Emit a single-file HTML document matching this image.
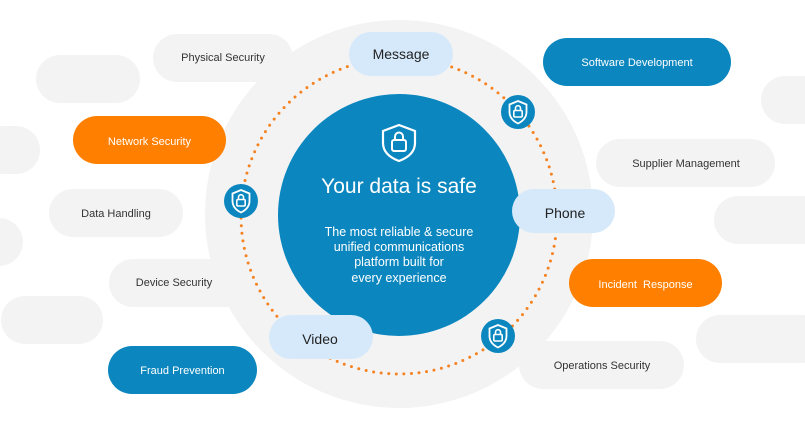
<!DOCTYPE html>
<html><head><meta charset="utf-8"><style>
html,body{margin:0;padding:0;background:#fff;}
svg{display:block;font-family:"Liberation Sans",Arial,sans-serif;}
</style></head><body>
<svg width="805" height="424" viewBox="0 0 805 424">
<defs>
<g id="lock">
<circle r="17" fill="#0b86be"/>
<path d="M0,-11 L8.5,-7.5 V0 C8.5,6 4,9.5 0,11.5 C-4,9.5 -8.5,6 -8.5,0 V-7.5 Z" fill="none" stroke="#fff" stroke-width="1.8"/>
<rect x="-4.2" y="-1.5" width="8.4" height="6.5" rx="1.2" fill="none" stroke="#fff" stroke-width="1.6"/>
<path d="M-2.5,-1.5 V-3.8 A2.5,2.5 0 0 1 2.5,-3.8 V-1.5" fill="none" stroke="#fff" stroke-width="1.6"/>
</g>
</defs>
<circle cx="399" cy="214" r="194" fill="#f3f3f3"/>
<g fill="#f3f3f3">
<rect x="153" y="34" width="140" height="48" rx="24"/>
<rect x="36" y="55" width="104" height="48" rx="24"/>
<rect x="-20" y="126" width="60" height="48" rx="24"/>
<rect x="49" y="189" width="134" height="48" rx="24"/>
<rect x="-30" y="218" width="53" height="48" rx="24"/>
<rect x="109" y="259" width="140" height="48" rx="24"/>
<rect x="1" y="296" width="102" height="48" rx="24"/>
<rect x="761" y="76" width="80" height="48" rx="24"/>
<rect x="596" y="139" width="179" height="48" rx="24"/>
<rect x="714" y="196" width="120" height="48" rx="24"/>
<rect x="696" y="315" width="130" height="48" rx="24"/>
<rect x="519" y="341" width="165" height="48" rx="24"/>
</g>
<rect x="73" y="116" width="153" height="48" rx="24" fill="#ff7f00"/>
<rect x="569" y="259" width="153" height="48" rx="24" fill="#ff7f00"/>
<rect x="108" y="346" width="149" height="48" rx="24" fill="#0b86be"/>
<rect x="543" y="38" width="188" height="48" rx="24" fill="#0b86be"/>
<g font-size="11" fill="#333" text-anchor="middle">
<text x="223" y="61">Physical Security</text>
<text x="116" y="217">Data Handling</text>
<text x="174" y="286">Device Security</text>
<text x="686" y="167">Supplier Management</text>
<text x="602" y="369">Operations Security</text>
</g>
<g font-size="11" fill="#fff" text-anchor="middle">
<text x="149.5" y="145">Network Security</text>
<text x="645.5" y="288" xml:space="preserve">Incident  Response</text>
<text x="182.5" y="374">Fraud Prevention</text>
<text x="637" y="66">Software Development</text>
</g>
<circle cx="399" cy="216" r="158" fill="none" stroke="#f58220" stroke-width="3" stroke-linecap="round" stroke-dasharray="0 7.6"/>
<circle cx="399" cy="215" r="121" fill="#0b86be"/>
<g transform="translate(399,142)">
<path d="M0,-17 L16,-11 V1 C16,11 8,16 0,19 C-8,16 -16,11 -16,1 V-11 Z" fill="none" stroke="#fff" stroke-width="2.2"/>
<rect x="-7" y="-2" width="14" height="11" rx="2" fill="none" stroke="#fff" stroke-width="2"/>
<path d="M-4,-2 V-5.5 A4,4 0 0 1 4,-5.5 V-2" fill="none" stroke="#fff" stroke-width="2"/>
</g>
<text x="399" y="193" font-size="21" fill="#fff" text-anchor="middle">Your data is safe</text>
<g font-size="12.5" fill="#fff" text-anchor="middle">
<text x="399" y="236">The most reliable &amp; secure</text>
<text x="399" y="251">unified communications</text>
<text x="399" y="266">platform built for</text>
<text x="399" y="282">every experience</text>
</g>
<g fill="#d6e9fb">
<rect x="349" y="32" width="104" height="44" rx="22"/>
<rect x="512" y="189" width="103" height="44" rx="22"/>
<rect x="269" y="315" width="104" height="44" rx="22"/>
</g>
<g font-size="14" fill="#222" text-anchor="middle">
<text x="401" y="59">Message</text>
<text x="565" y="218">Phone</text>
<text x="320" y="344">Video</text>
</g>
<use href="#lock" x="518" y="112"/>
<use href="#lock" x="241" y="201"/>
<use href="#lock" x="498" y="336"/>
</svg>
</body></html>
